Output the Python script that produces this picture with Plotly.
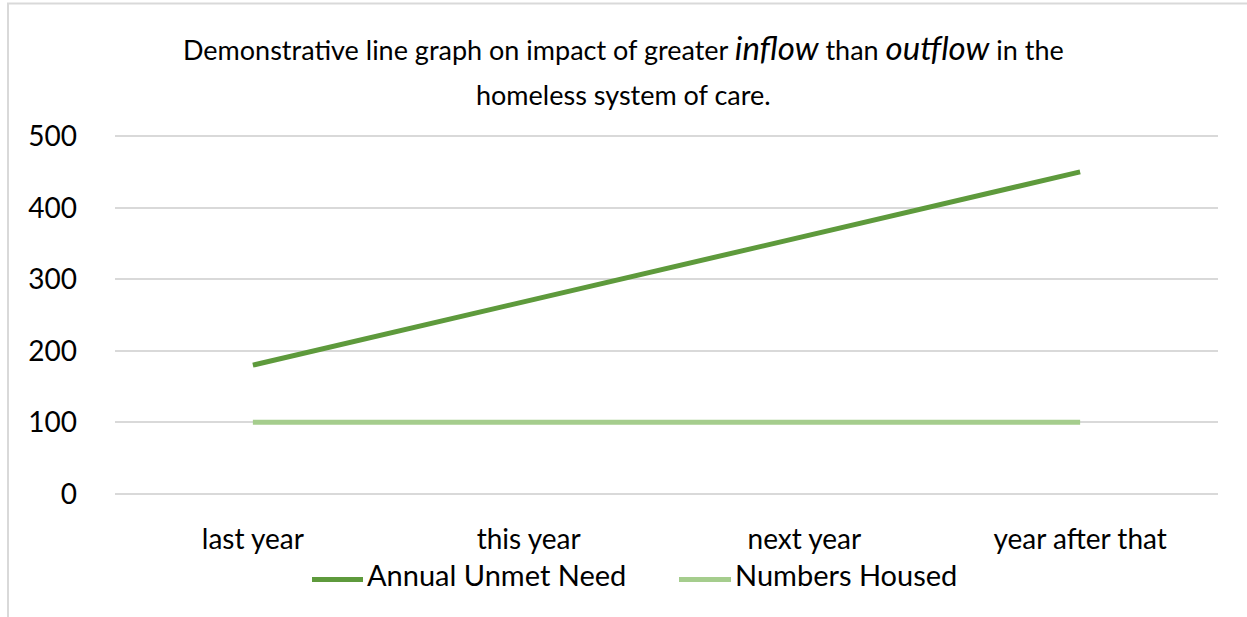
import plotly.graph_objects as go

categories = ["last year", "this year", "next year", "year after that"]
unmet_need = [180, 270, 360, 450]
numbers_housed = [100, 100, 100, 100]
y_ticks = [0, 100, 200, 300, 400, 500]
series_names = ["Annual Unmet Need", "Numbers Housed"]

DARK = "#5E9A3C"
LIGHT = "#A5CD8D"
TICKFONT = dict(family="Lato, 'Open Sans', sans-serif", size=28, color="#000000")
LEGFONT = dict(family="Lato, 'Open Sans', sans-serif", size=29, color="#000000")

# pixel -> paper helpers for the plot area (l=115, plot width 1103, 0 at y=494, height 358)
def px(x):
    return (x - 115) / 1103

def py(y):
    return (494 - y) / 358

fig = go.Figure()
fig.add_trace(go.Scatter(x=categories, y=unmet_need, mode="lines", name=series_names[0],
                         line=dict(color=DARK, width=5), showlegend=False))
fig.add_trace(go.Scatter(x=categories, y=numbers_housed, mode="lines", name=series_names[1],
                         line=dict(color=LIGHT, width=5), showlegend=False))

LEG_Y = 576.5
legend_items = [(312, 363, 365, DARK, series_names[0]), (679, 731, 733, LIGHT, series_names[1])]

annotations = [
    dict(xref="paper", yref="paper", x=0.4606, y=py(50), xanchor="center", yanchor="middle",
         showarrow=False,
         text="Demonstrative line graph on impact of greater <i><span style='font-size:33px'>inflow</span></i>"
              " than <i><span style='font-size:33px'>outflow</span></i> in the",
         font=dict(family="Lato, sans-serif", size=27, color="#000000")),
    dict(xref="paper", yref="paper", x=0.4606, y=py(97), xanchor="center", yanchor="middle",
         showarrow=False, text="homeless system of care.",
         font=dict(family="Lato, sans-serif", size=27, color="#000000")),
]
shapes = [
    dict(type="rect", xref="paper", yref="paper", x0=px(8), x1=1.2,
         y0=-0.6, y1=py(7), line=dict(color="#D9D9D9", width=2), layer="below"),
]
for x0, x1, xt, col, name in legend_items:
    shapes.append(dict(type="line", xref="paper", yref="paper", x0=px(x0), x1=px(x1),
                       y0=py(LEG_Y), y1=py(LEG_Y), line=dict(color=col, width=5)))
    annotations.append(dict(xref="paper", yref="paper", x=px(xt), y=py(LEG_Y - 5),
                            xanchor="left", yanchor="middle", showarrow=False,
                            text=name, font=LEGFONT))

fig.update_layout(
    width=1247, height=617,
    margin=dict(l=115, r=29, t=134, b=121, autoexpand=False),
    paper_bgcolor="white", plot_bgcolor="white",
    showlegend=False,
    xaxis=dict(type="category", range=[-0.5, 3.5], showgrid=False, zeroline=False,
               showline=False, ticks="", tickfont=TICKFONT, ticklabelstandoff=24,
               automargin=False),
    yaxis=dict(range=[-3, 503], tickvals=y_ticks, showgrid=True, gridcolor="#D9D9D9",
               gridwidth=2, zeroline=False, showline=False, ticks="", tickfont=TICKFONT,
               ticklabelstandoff=37, automargin=False),
    annotations=annotations,
    shapes=shapes,
)

fig.write_html("out.html")
